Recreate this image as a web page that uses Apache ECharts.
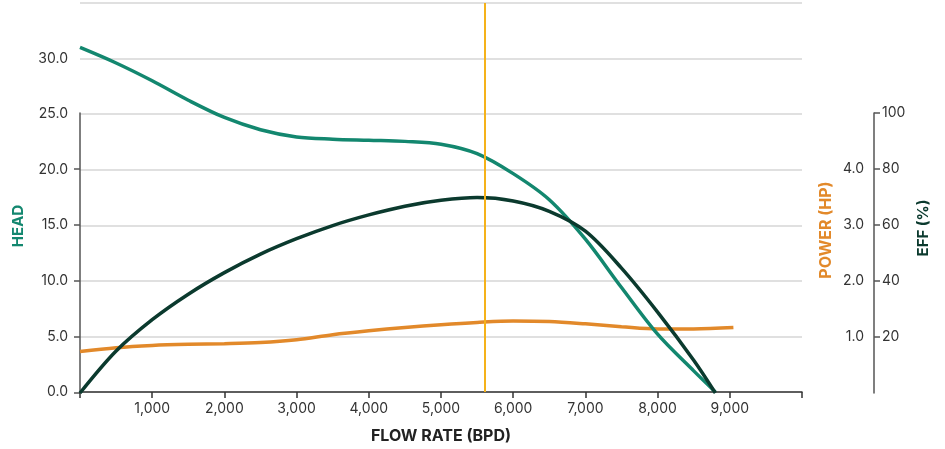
<!DOCTYPE html>
<html>
<head>
<meta charset="utf-8">
<script src="https://cdn.jsdelivr.net/npm/echarts@6/dist/echarts.min.js"></script>
<style>
  html, body { margin: 0; padding: 0; background: #fff; }
  #chart { width: 945px; height: 449px; }
</style>
</head>
<body>
<div id="chart"></div>
<script>
// flow rate (BPD) sample points for each curve
const headFlow = [0, 500, 1000, 1500, 2000, 2500, 3000, 3500, 4000, 4500, 5000, 5500, 6000, 6500, 7000, 7500, 8000, 8500, 8800];
const headValues = [31.0, 29.6, 28.0, 26.25, 24.7, 23.6, 22.95, 22.75, 22.65, 22.55, 22.3, 21.45, 19.65, 17.3, 13.75, 9.4, 5.2, 1.9, 0];

const effFlow = [0, 500, 1000, 1500, 2000, 2500, 3000, 3500, 4000, 4500, 5000, 5500, 6000, 6500, 7000, 7500, 8000, 8500, 8800];
const effValues = [0, 15.0, 26.2, 35.3, 43.0, 49.6, 55.1, 59.8, 63.6, 66.7, 68.8, 69.8, 68.6, 64.9, 57.8, 44.6, 28.9, 11.7, 0];

const powerFlow = [0, 500, 1000, 1500, 2000, 2500, 3000, 3500, 4000, 4500, 5000, 5500, 6000, 6500, 7000, 7500, 8000, 8500, 9050];
const powerValues = [0.74, 0.81, 0.85, 0.87, 0.88, 0.9, 0.95, 1.04, 1.11, 1.17, 1.22, 1.26, 1.285, 1.275, 1.235, 1.185, 1.145, 1.145, 1.17];

const bepFlow = 5600;

const flowTicks = [1000, 2000, 3000, 4000, 5000, 6000, 7000, 8000, 9000];
const headTicks = [0, 5, 10, 15, 20, 25, 30];
const powerTicks = [1, 2, 3, 4];
const effTicks = [20, 40, 60, 80, 100];

const teal = '#13876f';
const dark = '#0b3a2e';
const orange = '#e2892a';
const font = 'Inter';

function pairs(xs, ys) {
    return xs.map((x, i) => [x, ys[i]]);
}

let chart = echarts.init(document.getElementById('chart'));
chart.setOption({
    animation: false,
    textStyle: { fontFamily: font },
    grid: [
        { left: 80, right: 143, top: 3, bottom: 56 },
        { left: 80, right: 143, top: 113, bottom: 56 }
    ],
    xAxis: [{
        gridIndex: 0,
        type: 'value',
        min: 0,
        max: 10000,
        interval: 1000,
        name: 'FLOW RATE (BPD)',
        nameLocation: 'middle',
        nameGap: 36,
        nameTextStyle: { fontFamily: font, fontWeight: 'bold', fontSize: 16, color: '#222' },
        axisLine: { lineStyle: { color: '#333', width: 1.5 } },
        axisTick: { length: 6, lineStyle: { color: '#333', width: 1.5 } },
        axisLabel: {
            customValues: flowTicks,
            formatter: v => v.toLocaleString('en-US'),
            color: '#333',
            fontSize: 14,
            margin: 10
        },
        splitLine: { show: false }
    }, {
        gridIndex: 1,
        type: 'value',
        min: 0,
        max: 10000,
        show: false
    }],
    yAxis: [{
        gridIndex: 0,
        type: 'value',
        min: 0,
        max: 35,
        interval: 5,
        axisLine: { show: false },
        axisTick: { show: false },
        axisLabel: {
            customValues: headTicks,
            formatter: v => v.toFixed(1),
            color: '#333',
            fontSize: 14,
            margin: 12
        },
        splitLine: { lineStyle: { color: '#d6d6d6', width: 1.5 } }
    }, {
        gridIndex: 1,
        type: 'value',
        position: 'right',
        offset: 72,
        min: 0,
        max: 5,
        interval: 1,
        axisLine: { show: true, lineStyle: { color: '#555', width: 1.5 } },
        axisTick: { show: true, inside: true, length: 6, customValues: [0, 1, 2, 3, 4], lineStyle: { color: '#555', width: 1.5 } },
        axisLabel: {
            inside: true,
            customValues: powerTicks,
            formatter: v => v.toFixed(1),
            color: '#333',
            fontSize: 14,
            margin: 10
        },
        splitLine: { show: false }
    }, {
        gridIndex: 1,
        type: 'value',
        position: 'right',
        offset: 72,
        min: 0,
        max: 100,
        interval: 20,
        axisLine: { show: true, lineStyle: { color: '#555', width: 1.5 } },
        axisTick: { show: true, length: 6, customValues: effTicks, lineStyle: { color: '#555', width: 1.5 } },
        axisLabel: {
            customValues: effTicks,
            color: '#333',
            fontSize: 14,
            margin: 8
        },
        splitLine: { show: false }
    }],
    graphic: [{
        type: 'text',
        x: 18,
        y: 226,
        rotation: Math.PI / 2,
        style: { text: 'HEAD', fill: teal, font: 'bold 15px Inter', textAlign: 'center', textVerticalAlign: 'middle' }
    }, {
        type: 'text',
        x: 826,
        y: 230,
        rotation: Math.PI / 2,
        style: { text: 'POWER (HP)', fill: orange, font: 'bold 16px Inter', textAlign: 'center', textVerticalAlign: 'middle' }
    }, {
        type: 'text',
        x: 923,
        y: 228,
        rotation: Math.PI / 2,
        style: { text: 'EFF (%)', fill: dark, font: 'bold 15px Inter', textAlign: 'center', textVerticalAlign: 'middle' }
    }],
    series: [{
        name: 'Head',
        type: 'line',
        xAxisIndex: 0,
        yAxisIndex: 0,
        data: pairs(headFlow, headValues),
        smooth: 0.33,
        symbol: 'none',
        lineStyle: { color: teal, width: 3.5 },
        itemStyle: { color: teal },
        markLine: {
            silent: true,
            symbol: 'none',
            label: { show: false },
            lineStyle: { color: '#f5b21a', width: 2, type: 'solid' },
            data: [{ xAxis: bepFlow }]
        },
        z: 3
    }, {
        name: 'Power',
        type: 'line',
        xAxisIndex: 1,
        yAxisIndex: 1,
        data: pairs(powerFlow, powerValues),
        smooth: 0.33,
        symbol: 'none',
        lineStyle: { color: orange, width: 3.5 },
        itemStyle: { color: orange },
        z: 2
    }, {
        name: 'Efficiency',
        type: 'line',
        xAxisIndex: 1,
        yAxisIndex: 2,
        data: pairs(effFlow, effValues),
        smooth: 0.33,
        symbol: 'none',
        lineStyle: { color: dark, width: 3.5 },
        itemStyle: { color: dark },
        z: 4
    }]
});
</script>
</body>
</html>
